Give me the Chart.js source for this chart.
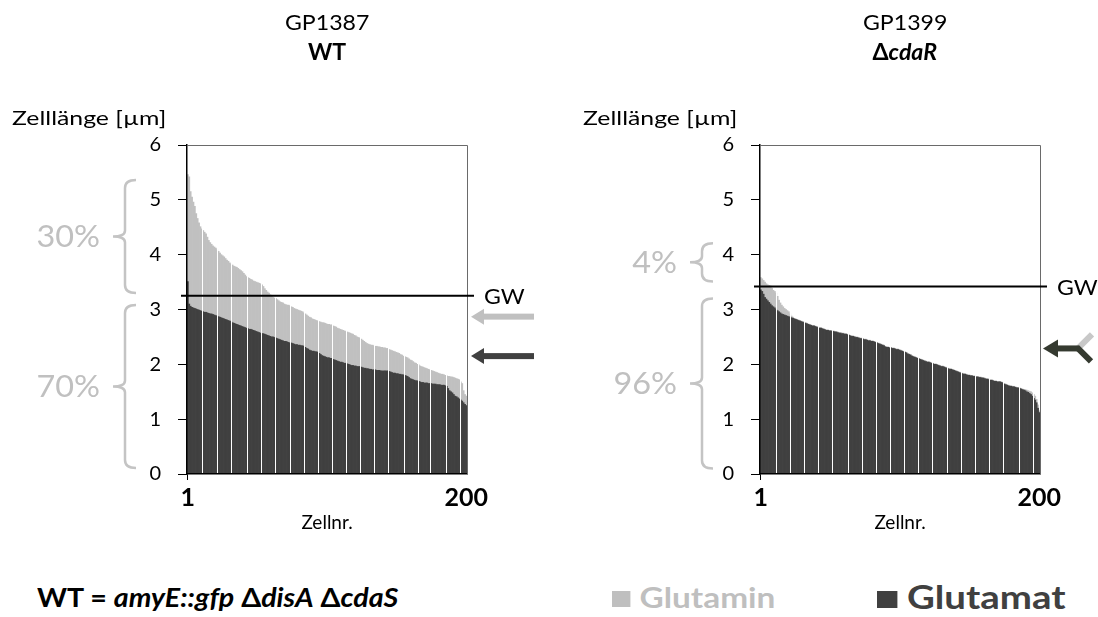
<!DOCTYPE html>
<html>
<head>
<meta charset="utf-8">
<script src="https://cdn.jsdelivr.net/npm/chart.js@4.4.1/dist/chart.umd.min.js"></script>
<style>
  html, body { margin: 0; padding: 0; background: #fff; }
  body { width: 1098px; height: 617px; position: relative; overflow: hidden; font-family: Lato, "Open Sans", sans-serif; }
  canvas { position: absolute; top: 0; }
  .t { position: absolute; white-space: nowrap; color: #000; }
  .c { width: 200px; text-align: center; font-size: 22px; line-height: 26px; }
  .c span { display: inline-block; transform: scaleX(1.05); transform-origin: 50% 50%; }
  .w { display: inline-block; transform-origin: 0 50%; }
  .sq { display: inline-block; width: 16px; height: 16px; margin-right: 8px; vertical-align: 1px; }
</style>
</head>
<body>
<canvas id="wt" width="549" height="560" style="left:0"></canvas>
<canvas id="cdar" width="549" height="560" style="left:549px"></canvas>

<div class="t c" style="left:227px;top:9px"><span>GP1387</span></div>
<div class="t c" style="left:227px;top:39px;font-weight:bold"><span>WT</span></div>
<div class="t c" style="left:805px;top:9px"><span>GP1399</span></div>
<div class="t c" style="left:805px;top:39px;font-weight:bold"><span>Δ<i>cdaR</i></span></div>
<div class="t" style="left:12px;top:103px;font-size:20px;line-height:28px"><span class="w" style="transform:scaleX(1.24)">Zelllänge [µm]</span></div>
<div class="t" style="left:583px;top:103px;font-size:20px;line-height:28px"><span class="w" style="transform:scaleX(1.24)">Zelllänge [µm]</span></div>

<div class="t" style="left:37px;top:581px;font-size:26px;line-height:32px;font-weight:bold"><span class="w" style="transform:scaleX(1.1)">WT = <i>amyE::gfp</i> Δ<i>disA</i> Δ<i>cdaS</i></span></div>
<div class="t" style="left:612px;top:581px;font-size:29px;line-height:32px;font-weight:bold;color:#bfbfbf"><span class="w" style="transform:scaleX(1.15)"><span class="sq" style="background:#bfbfbf"></span>Glutamin</span></div>
<div class="t" style="left:877px;top:579px;font-size:32px;line-height:35px;font-weight:bold;color:#404040"><span class="w" style="transform:scaleX(1.2)"><span class="sq" style="background:#404040;width:17px;height:17px"></span>Glutamat</span></div>

<script>
// Cell numbers 1..200 (category axis)
const cells = [];
for (let i = 1; i <= 200; i++) cells.push(String(i));

// GP1387 (WT): cell lengths in µm, each series sorted descending
const wtGlutamin = [
  5.46, 5.42, 5.15, 5.05, 4.96, 4.88, 4.75, 4.66, 4.58, 4.51,
  4.47, 4.44, 4.41, 4.38, 4.32, 4.26, 4.22, 4.19, 4.16, 4.14,
  4.12, 4.09, 4.06, 4.03, 4.00, 3.98, 3.96, 3.93, 3.90, 3.88,
  3.85, 3.83, 3.81, 3.79, 3.78, 3.77, 3.75, 3.73, 3.71, 3.69,
  3.66, 3.63, 3.60, 3.58, 3.57, 3.55, 3.54, 3.52, 3.51, 3.50,
  3.49, 3.48, 3.47, 3.45, 3.42, 3.38, 3.35, 3.32, 3.30, 3.27,
  3.24, 3.22, 3.21, 3.20, 3.18, 3.16, 3.14, 3.13, 3.12, 3.10,
  3.09, 3.08, 3.08, 3.07, 3.05, 3.04, 3.02, 3.01, 3.00, 2.99,
  2.98, 2.97, 2.96, 2.94, 2.92, 2.90, 2.88, 2.86, 2.85, 2.83,
  2.82, 2.81, 2.80, 2.79, 2.78, 2.77, 2.76, 2.76, 2.75, 2.74,
  2.73, 2.73, 2.72, 2.72, 2.70, 2.69, 2.68, 2.66, 2.65, 2.64,
  2.63, 2.62, 2.61, 2.60, 2.59, 2.58, 2.57, 2.56, 2.55, 2.53,
  2.52, 2.50, 2.49, 2.48, 2.46, 2.44, 2.42, 2.40, 2.38, 2.37,
  2.36, 2.35, 2.35, 2.34, 2.33, 2.33, 2.32, 2.32, 2.31, 2.31,
  2.30, 2.30, 2.29, 2.29, 2.27, 2.26, 2.25, 2.24, 2.23, 2.22,
  2.21, 2.20, 2.18, 2.17, 2.15, 2.14, 2.13, 2.12, 2.10, 2.08,
  2.07, 2.05, 2.03, 2.02, 2.00, 1.99, 1.97, 1.96, 1.95, 1.94,
  1.93, 1.92, 1.91, 1.90, 1.89, 1.88, 1.87, 1.86, 1.85, 1.84,
  1.83, 1.82, 1.82, 1.81, 1.80, 1.79, 1.78, 1.78, 1.77, 1.77,
  1.76, 1.75, 1.74, 1.73, 1.72, 1.68, 1.65, 1.52, 1.45, 1.42
];
const wtGlutamat = [
  3.51, 3.10, 3.06, 3.04, 3.03, 3.02, 3.01, 3.00, 2.99, 2.98,
  2.97, 2.96, 2.95, 2.95, 2.94, 2.93, 2.92, 2.92, 2.91, 2.90,
  2.89, 2.88, 2.87, 2.86, 2.85, 2.84, 2.83, 2.82, 2.81, 2.80,
  2.79, 2.78, 2.76, 2.75, 2.74, 2.73, 2.72, 2.71, 2.70, 2.69,
  2.68, 2.67, 2.66, 2.65, 2.64, 2.64, 2.63, 2.62, 2.61, 2.60,
  2.59, 2.58, 2.57, 2.56, 2.56, 2.55, 2.54, 2.53, 2.52, 2.51,
  2.50, 2.50, 2.49, 2.48, 2.47, 2.46, 2.45, 2.44, 2.43, 2.42,
  2.42, 2.41, 2.40, 2.39, 2.39, 2.38, 2.37, 2.36, 2.36, 2.35,
  2.35, 2.34, 2.34, 2.33, 2.31, 2.29, 2.28, 2.26, 2.25, 2.24,
  2.24, 2.23, 2.23, 2.22, 2.20, 2.18, 2.16, 2.15, 2.14, 2.13,
  2.12, 2.12, 2.11, 2.11, 2.09, 2.08, 2.07, 2.06, 2.05, 2.04,
  2.04, 2.03, 2.02, 2.02, 2.01, 2.00, 1.99, 1.98, 1.98, 1.97,
  1.97, 1.96, 1.96, 1.96, 1.95, 1.94, 1.93, 1.93, 1.92, 1.92,
  1.91, 1.91, 1.90, 1.90, 1.90, 1.89, 1.89, 1.89, 1.88, 1.88,
  1.88, 1.88, 1.88, 1.88, 1.87, 1.86, 1.85, 1.84, 1.84, 1.83,
  1.83, 1.82, 1.82, 1.81, 1.81, 1.80, 1.79, 1.78, 1.76, 1.74,
  1.73, 1.72, 1.71, 1.70, 1.70, 1.69, 1.68, 1.67, 1.67, 1.66,
  1.66, 1.66, 1.65, 1.65, 1.65, 1.64, 1.64, 1.64, 1.63, 1.63,
  1.63, 1.62, 1.62, 1.62, 1.61, 1.60, 1.56, 1.52, 1.50, 1.48,
  1.45, 1.42, 1.41, 1.39, 1.37, 1.35, 1.33, 1.30, 1.27, 1.25
];

// GP1399 (ΔcdaR): cell lengths in µm, each series sorted descending
const cdarGlutamin = [
  3.58, 3.56, 3.53, 3.50, 3.47, 3.45, 3.44, 3.43, 3.39, 3.35,
  3.33, 3.30, 3.24, 3.17, 3.12, 3.08, 3.05, 3.02, 3.00, 2.98,
  2.96, 2.92, 2.88, 2.86, 2.84, 2.83, 2.82, 2.81, 2.80, 2.79,
  2.78, 2.77, 2.76, 2.75, 2.74, 2.73, 2.72, 2.71, 2.71, 2.70,
  2.69, 2.68, 2.67, 2.67, 2.66, 2.65, 2.64, 2.63, 2.63, 2.62,
  2.62, 2.61, 2.61, 2.60, 2.60, 2.59, 2.58, 2.58, 2.57, 2.57,
  2.56, 2.56, 2.55, 2.54, 2.53, 2.52, 2.52, 2.51, 2.50, 2.50,
  2.49, 2.48, 2.48, 2.47, 2.46, 2.46, 2.45, 2.44, 2.44, 2.43,
  2.43, 2.42, 2.41, 2.40, 2.39, 2.38, 2.37, 2.36, 2.35, 2.33,
  2.32, 2.32, 2.31, 2.31, 2.30, 2.30, 2.29, 2.28, 2.28, 2.27,
  2.26, 2.25, 2.24, 2.23, 2.22, 2.20, 2.19, 2.18, 2.16, 2.15,
  2.14, 2.13, 2.12, 2.11, 2.10, 2.09, 2.08, 2.07, 2.06, 2.05,
  2.05, 2.04, 2.03, 2.02, 2.01, 2.01, 2.00, 1.99, 1.98, 1.97,
  1.97, 1.96, 1.95, 1.94, 1.93, 1.92, 1.92, 1.91, 1.90, 1.89,
  1.88, 1.87, 1.86, 1.85, 1.84, 1.83, 1.83, 1.82, 1.81, 1.81,
  1.80, 1.80, 1.79, 1.79, 1.78, 1.78, 1.77, 1.77, 1.76, 1.76,
  1.75, 1.74, 1.74, 1.73, 1.72, 1.72, 1.71, 1.70, 1.70, 1.69,
  1.69, 1.69, 1.68, 1.67, 1.65, 1.64, 1.63, 1.62, 1.61, 1.61,
  1.60, 1.60, 1.59, 1.58, 1.58, 1.57, 1.56, 1.55, 1.54, 1.54,
  1.53, 1.52, 1.51, 1.50, 1.48, 1.45, 1.42, 1.36, 1.26, 1.15
];
const cdarGlutamat = [
  3.36, 3.33, 3.28, 3.22, 3.19, 3.16, 3.13, 3.10, 3.07, 3.05,
  3.03, 3.00, 2.98, 2.96, 2.94, 2.92, 2.91, 2.90, 2.89, 2.88,
  2.87, 2.86, 2.85, 2.84, 2.83, 2.82, 2.81, 2.80, 2.79, 2.78,
  2.77, 2.76, 2.75, 2.74, 2.73, 2.72, 2.71, 2.70, 2.70, 2.69,
  2.68, 2.67, 2.66, 2.66, 2.65, 2.64, 2.63, 2.62, 2.62, 2.61,
  2.61, 2.60, 2.60, 2.59, 2.59, 2.58, 2.57, 2.57, 2.56, 2.56,
  2.55, 2.55, 2.54, 2.53, 2.52, 2.51, 2.51, 2.50, 2.49, 2.49,
  2.48, 2.47, 2.47, 2.46, 2.45, 2.45, 2.44, 2.43, 2.43, 2.42,
  2.42, 2.41, 2.40, 2.39, 2.38, 2.37, 2.36, 2.35, 2.34, 2.32,
  2.31, 2.31, 2.30, 2.30, 2.29, 2.29, 2.28, 2.27, 2.27, 2.26,
  2.25, 2.24, 2.23, 2.22, 2.21, 2.19, 2.18, 2.17, 2.15, 2.14,
  2.13, 2.12, 2.11, 2.10, 2.09, 2.08, 2.07, 2.06, 2.05, 2.04,
  2.04, 2.03, 2.02, 2.01, 2.00, 2.00, 1.99, 1.98, 1.97, 1.96,
  1.96, 1.95, 1.94, 1.93, 1.92, 1.91, 1.91, 1.90, 1.89, 1.88,
  1.87, 1.86, 1.85, 1.84, 1.83, 1.82, 1.82, 1.81, 1.80, 1.80,
  1.79, 1.79, 1.78, 1.78, 1.77, 1.77, 1.76, 1.76, 1.75, 1.75,
  1.74, 1.73, 1.73, 1.72, 1.71, 1.71, 1.70, 1.69, 1.69, 1.68,
  1.68, 1.68, 1.67, 1.66, 1.64, 1.63, 1.62, 1.61, 1.60, 1.60,
  1.59, 1.59, 1.58, 1.57, 1.57, 1.56, 1.55, 1.54, 1.53, 1.52,
  1.50, 1.49, 1.47, 1.45, 1.42, 1.38, 1.35, 1.30, 1.20, 1.12
];

// Threshold (GW) per strain, µm
const wtThreshold = 3.25;
const cdarThreshold = 3.42;

// Share of cells above / below the threshold
const wtShares = ['30%', '70%'];
const cdarShares = ['4%', '96%'];

// Y tick values
const yTicks = [0, 1, 2, 3, 4, 5, 6];

const LIGHT = '#c0c0c0';
const DARK = '#404040';
const FONT = 'Lato, "Open Sans", sans-serif';

// Thin white separators between bar groups
const wtGaps = [11, 22, 32, 43, 53, 63, 74, 84, 94, 104, 114, 124, 134, 144, 155, 165, 174, 185, 195];
const cdarGaps = [12, 22, 32, 42, 52, 63, 73, 83, 93, 103, 113, 123, 134, 144, 154, 164, 174, 185, 195];

function drawBrace(ctx, x, yTop, yBot) {
  const ym = (yTop + yBot) / 2;
  const r = 8;
  ctx.beginPath();
  ctx.moveTo(x + 11, yTop);
  ctx.quadraticCurveTo(x, yTop, x, yTop + r);
  ctx.lineTo(x, ym - 6);
  ctx.quadraticCurveTo(x, ym, x - 12, ym);
  ctx.quadraticCurveTo(x, ym, x, ym + 6);
  ctx.lineTo(x, yBot - r);
  ctx.quadraticCurveTo(x, yBot, x + 11, yBot);
  ctx.stroke();
  return ym;
}

function drawArrowHead(ctx, tipX, y, len, half, color) {
  ctx.fillStyle = color;
  ctx.beginPath();
  ctx.moveTo(tipX, y);
  ctx.lineTo(tipX + len, y - half);
  ctx.lineTo(tipX + len, y + half);
  ctx.closePath();
  ctx.fill();
}

// Text stretched horizontally around its anchor
function wideText(ctx, text, x, y, sx) {
  ctx.save();
  ctx.translate(x, y);
  ctx.scale(sx, 1);
  ctx.fillText(text, 0, 0);
  ctx.restore();
}

// Frame, threshold line, braces with shares and arrows
const decor = {
  id: 'decor',
  afterDraw(chart, args, o) {
    const { ctx, chartArea: a } = chart;
    const y = chart.scales.y;
    ctx.save();

    // top and right frame
    ctx.strokeStyle = '#6a6a6a';
    ctx.lineWidth = 1;
    ctx.beginPath();
    ctx.moveTo(a.left, a.top + 0.5);
    ctx.lineTo(a.right + 0.5, a.top + 0.5);
    ctx.lineTo(a.right + 0.5, a.bottom);
    ctx.stroke();

    // threshold
    const gy = y.getPixelForValue(o.gw);
    ctx.strokeStyle = '#000';
    ctx.lineWidth = 2;
    ctx.beginPath();
    ctx.moveTo(a.left - 6, gy);
    ctx.lineTo(a.right + 7, gy);
    ctx.stroke();
    ctx.fillStyle = '#000';
    ctx.font = '22px ' + FONT;
    ctx.textAlign = 'left';
    ctx.textBaseline = 'middle';
    wideText(ctx, 'GW', a.right + 17, gy + 1, 1.05);

    // braces
    ctx.strokeStyle = '#c4c4c4';
    ctx.lineWidth = 2.5;
    ctx.fillStyle = '#c0c0c0';
    ctx.font = '30px ' + FONT;
    ctx.textAlign = 'right';
    o.braces.forEach(b => {
      const ym = drawBrace(ctx, o.braceX, y.getPixelForValue(b.top), y.getPixelForValue(b.bottom));
      wideText(ctx, b.label, o.braceX - 25, ym + 1, 1.08);
    });

    // arrows
    const tip = a.right + 4;
    if (o.arrows === 'split') {
      const ay = y.getPixelForValue(2.87);
      const by = y.getPixelForValue(2.15);
      [[ay, LIGHT], [by, DARK]].forEach(([yy, col]) => {
        drawArrowHead(ctx, tip, yy, 13, 8, col);
        ctx.fillRect(tip + 12, yy - 3, 63 - 12, 6);
      });
    } else {
      const yy = y.getPixelForValue(2.29);
      const jx = tip + 35;
      ctx.lineCap = 'butt';
      ctx.lineWidth = 6;
      ctx.strokeStyle = '#c8c8c8';
      ctx.beginPath();
      ctx.moveTo(jx - 2, yy + 1);
      ctx.lineTo(jx + 13, yy - 14);
      ctx.stroke();
      ctx.strokeStyle = '#353a30';
      ctx.beginPath();
      ctx.moveTo(jx - 2, yy - 1);
      ctx.lineTo(jx + 12, yy + 13);
      ctx.stroke();
      drawArrowHead(ctx, tip - 1, yy, 15, 9, '#353a30');
      ctx.fillStyle = '#353a30';
      ctx.fillRect(tip + 13, yy - 3, jx - tip - 13, 6);
    }
    ctx.restore();
  }
};

function makeChart(id, glutamin, glutamat, gaps, pad, decorOpts) {
  return new Chart(document.getElementById(id), {
    type: 'bar',
    data: {
      labels: cells,
      datasets: [
        { label: 'Glutamat', data: glutamat, backgroundColor: DARK, order: 0 },
        { label: 'Glutamin', data: glutamin, backgroundColor: LIGHT, order: 1 }
      ]
    },
    options: {
      responsive: false,
      animation: false,
      events: [],
      layout: { padding: pad },
      datasets: { bar: { grouped: false, barPercentage: 1, categoryPercentage: 1, borderWidth: 0 } },
      plugins: { legend: { display: false }, tooltip: { enabled: false }, decor: decorOpts },
      scales: {
        x: {
          type: 'category',
          offset: true,
          ticks: {
            autoSkip: false, maxRotation: 0, minRotation: 0, padding: 3, color: '#000',
            font: { family: FONT, size: 25, weight: 'bold' },
            callback: (v, i) => (i === 0 || i === cells.length - 1) ? cells[i] : ''
          },
          grid: {
            offset: true, z: 1, lineWidth: 1, tickLength: 6,
            color: c => gaps.includes(c.index) ? '#ffffff' : 'rgba(0,0,0,0)',
            tickColor: c => c.index === 0 ? '#000' : 'rgba(0,0,0,0)'
          },
          border: { display: true, color: '#000', width: 1.5, z: 2 },
          title: { display: true, text: 'Zellnr.', color: '#000', font: { family: FONT, size: 19 }, padding: { top: 0, bottom: 2 } },
          afterFit: s => { s.height = 62; }
        },
        y: {
          min: 0, max: 6,
          afterBuildTicks: s => { s.ticks = yTicks.map(v => ({ value: v })); },
          ticks: { color: '#000', padding: 17, font: { family: FONT, size: 20 } },
          grid: { drawOnChartArea: false, drawTicks: true, tickLength: 9, tickColor: '#000', lineWidth: 1 },
          border: { display: true, color: '#000', width: 1.5, z: 2 },
          afterFit: s => { s.width = 50; }
        }
      }
    },
    plugins: [decor]
  });
}

makeChart('wt', wtGlutamin, wtGlutamat, wtGaps,
  { left: 137, right: 82, top: 145, bottom: 24 },
  { gw: wtThreshold, braceX: 125, arrows: 'split',
    braces: [ { top: 5.36, bottom: 3.30, label: wtShares[0] }, { top: 3.08, bottom: 0.11, label: wtShares[1] } ] });

makeChart('cdar', cdarGlutamin, cdarGlutamat, cdarGaps,
  { left: 161, right: 58, top: 145, bottom: 24 },
  { gw: cdarThreshold, braceX: 153, arrows: 'merge',
    braces: [ { top: 4.21, bottom: 3.51, label: cdarShares[0] }, { top: 3.20, bottom: 0.10, label: cdarShares[1] } ] });
</script>
</body>
</html>
